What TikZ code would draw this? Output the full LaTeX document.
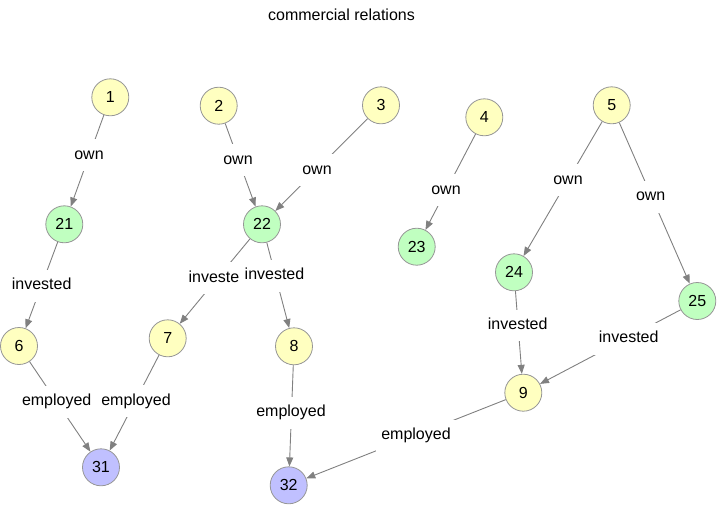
\documentclass[tikz,border=0pt]{standalone}
\usepackage{fontspec}
\setmainfont{Liberation Sans}
\usetikzlibrary{arrows.meta}
\definecolor{nyellow}{RGB}{255,255,192}
\definecolor{ngreen}{RGB}{192,255,192}
\definecolor{nblue}{RGB}{192,192,255}
\definecolor{nborder}{RGB}{150,150,150}
\definecolor{conncol}{RGB}{128,128,128}
\begin{document}
\begin{tikzpicture}[x=1pt,y=-1pt,
  every node/.style={font=\fontsize{16}{19}\selectfont},
  ent/.style={circle,draw=nborder,line width=0.8pt,minimum size=37pt,inner sep=0pt},
  yel/.style={ent,fill=nyellow},
  grn/.style={ent,fill=ngreen},
  blu/.style={ent,fill=nblue},
  conn/.style={draw=conncol,line width=0.9pt,-{Triangle[length=9pt,width=7pt]}},
  lbl/.style={fill=white,inner xsep=5pt,inner ysep=8.5pt,text height=11.5pt,text depth=3.4pt}]
\useasboundingbox (0,0) rectangle (717,504);
\node (title) at (341.5,14.5) {commercial relations};
% entities
\node[yel] (n1) at (110.3,97.3) {1};
\node[yel] (n2) at (218.7,105.7) {2};
\node[yel] (n3) at (381,105.3) {3};
\node[yel] (n4) at (484.3,117.3) {4};
\node[yel] (n5) at (611.7,105.3) {5};
\node[grn] (n21) at (64.3,224.3) {21};
\node[grn] (n22) at (262,224.3) {22};
\node[grn] (n23) at (416.7,246.7) {23};
\node[grn] (n24) at (514,272.3) {24};
\node[grn] (n25) at (697.3,301) {25};
\node[yel] (n6) at (19,346) {6};
\node[yel] (n7) at (167.7,338.3) {7};
\node[yel] (n8) at (294,346.3) {8};
\node[yel] (n9) at (523.3,392.7) {9};
\node[blu] (n31) at (101,467.3) {31};
\node[blu] (n32) at (288.7,485.3) {32};
% connectors
\draw[conn] (n1) -- (n21);
\draw[conn] (n2) -- (n22);
\draw[conn] (n3) -- (n22);
\draw[conn] (n4) -- (n23);
\draw[conn] (n5) -- (n24);
\draw[conn] (n5) -- (n25);
\draw[conn] (n21) -- (n6);
\draw[conn] (n22) -- (n7);
\draw[conn] (n22) -- (n8);
\draw[conn] (n24) -- (n9);
\draw[conn] (n25) -- (n9);
\draw[conn] (n6) -- (n31);
\draw[conn] (n7) -- (n31);
\draw[conn] (n8) -- (n32);
\draw[conn] (n9) -- (n32);
% labels
\node[lbl] (l1) at (89,155) {own};
\node[lbl] (l2) at (238,160) {own};
\node[lbl] (l3) at (317,170) {own};
\node[lbl] (l4) at (446,190) {own};
\node[lbl] (l5) at (568,180) {own};
\node[lbl] (l6) at (650.7,196.7) {own};
\node[lbl] (l7) at (41.7,285.8) {invested};
\node[lbl,anchor=west] (l8) at (183.4,278.2) {investe};
\node[lbl] (l9) at (274.5,275.8) {invested};
\node[lbl] (l10) at (517.7,325.5) {invested};
\node[lbl] (l11) at (628.7,338.8) {invested};
\node[lbl] (l12) at (56.7,401.7) {employed};
\node[lbl] (l13) at (136,401) {employed};
\node[lbl] (l14) at (291,412.7) {employed};
\node[lbl] (l15) at (416,435.7) {employed};
\end{tikzpicture}
\end{document}
